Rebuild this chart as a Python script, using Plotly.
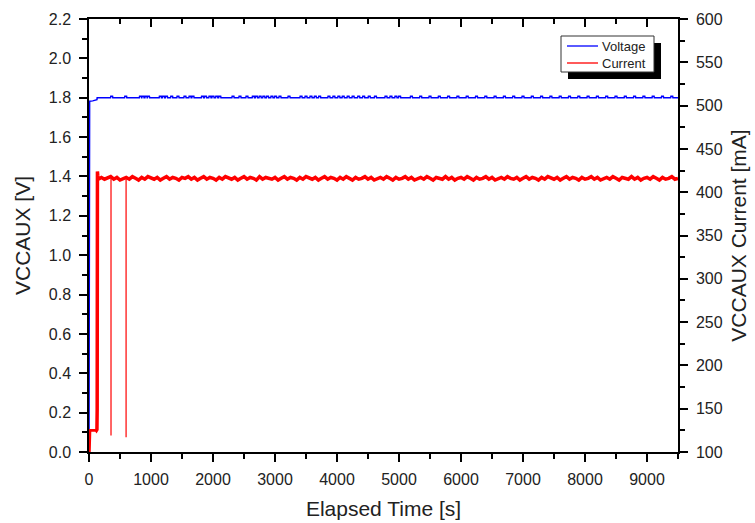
import plotly.graph_objects as go

# ---------------- data ----------------
volt_t = [0, 4, 10, 60, 100, 128, 132, 9500]
volt_v = [0.0, 1.780, 1.782, 1.784, 1.786, 1.790, 1.800, 1.800]
blip_level = 1.807
blip_t = [366, 592, 830, 870, 920, 960, 1150, 1200, 1250, 1334, 1435, 1548, 1629, 1677,
          1830, 1880, 1950, 2000, 2060, 2110, 2323, 2435, 2548, 2650, 2700, 2760, 2820,
          2880, 2950, 3010, 3080, 3226, 3420, 3500, 3580, 3650, 3720, 3870, 3950, 4030,
          4100, 4180, 4260, 4350, 4430, 4520, 4620, 4790, 4870, 4950, 5010, 5200, 5350,
          5500, 5650, 5800, 5950, 6100, 6250, 6400, 6550, 6700, 6850, 7000, 7150, 7300,
          7450, 7600, 7750, 7900, 8050, 8200, 8350, 8500, 8650, 8800, 8950, 9100, 9250, 9400]

cur_t = [0, 2, 10, 20, 30, 40, 50, 60, 70, 80, 90, 100, 110, 120, 128, 132, 136, 142, 150,
         200, 250, 300, 350, 400, 450, 500, 550, 600, 650, 700, 750, 800, 850, 900, 950, 1000,
         1050, 1100, 1150, 1200, 1250, 1300, 1350, 1400, 1450, 1500,
         1550, 1600, 1650, 1700, 1750, 1800, 1850, 1900, 1950, 2000,
         2050, 2100, 2150, 2200, 2250, 2300, 2350, 2400, 2450, 2500,
         2550, 2600, 2650, 2700, 2750, 2800, 2850, 2900, 2950, 3000,
         3050, 3100, 3150, 3200, 3250, 3300, 3350, 3400, 3450, 3500,
         3550, 3600, 3650, 3700, 3750, 3800, 3850, 3900, 3950, 4000,
         4050, 4100, 4150, 4200, 4250, 4300, 4350, 4400, 4450, 4500,
         4550, 4600, 4650, 4700, 4750, 4800, 4850, 4900, 4950, 5000,
         5050, 5100, 5150, 5200, 5250, 5300, 5350, 5400, 5450, 5500,
         5550, 5600, 5650, 5700, 5750, 5800, 5850, 5900, 5950, 6000,
         6050, 6100, 6150, 6200, 6250, 6300, 6350, 6400, 6450, 6500,
         6550, 6600, 6650, 6700, 6750, 6800, 6850, 6900, 6950, 7000,
         7050, 7100, 7150, 7200, 7250, 7300, 7350, 7400, 7450, 7500,
         7550, 7600, 7650, 7700, 7750, 7800, 7850, 7900, 7950, 8000,
         8050, 8100, 8150, 8200, 8250, 8300, 8350, 8400, 8450, 8500,
         8550, 8600, 8650, 8700, 8750, 8800, 8850, 8900, 8950, 9000,
         9050, 9100, 9150, 9200, 9250, 9300, 9350, 9400, 9450, 9500]
cur_v = [100, 123, 126, 124, 126, 124, 126, 124, 126, 124, 126, 124, 126, 125, 126, 150, 424, 419, 415,
         417, 415, 416, 418, 415, 417, 414, 416, 417, 415, 418, 416, 414, 417, 415, 418, 416,
         415, 417, 414, 416, 418, 415, 417, 416, 414, 417,
         416, 418, 415, 417, 414, 416, 418, 415, 417, 416,
         414, 417, 415, 418, 416, 415, 417, 414, 416, 418,
         415, 417, 416, 414, 418, 415, 417, 416, 415, 417,
         414, 416, 418, 415, 417, 416, 414, 417, 415, 418,
         416, 415, 417, 414, 416, 418, 415, 417, 416, 414,
         417, 415, 418, 416, 414, 417, 415, 416, 418, 415,
         417, 414, 416, 417, 415, 418, 416, 414, 417, 415,
         416, 418, 415, 417, 414, 416, 417, 415, 418, 416,
         414, 417, 416, 415, 418, 415, 417, 414, 416, 417,
         415, 418, 416, 414, 417, 415, 416, 418, 415, 417,
         414, 416, 417, 415, 418, 416, 415, 417, 414, 416,
         418, 415, 417, 416, 414, 417, 415, 418, 416, 415,
         417, 414, 416, 418, 415, 417, 416, 414, 417, 415,
         416, 418, 415, 417, 414, 416, 417, 415, 418, 416,
         414, 417, 416, 415, 418, 415, 417, 414, 416, 417,
         415, 418, 416, 414, 417, 415, 416, 418, 415, 416]

# brief dropouts of the current reading
drop_t = [355, 598]
drop_from = [416, 416]
drop_v = [119, 117]

x_range = [0, 9500]
v_range = [0, 2.2]
i_range = [100, 600]

# ---------------- build ----------------
pts = [(t, v) for t, v in zip(volt_t, volt_v)]
base = volt_v[-1]
for b in blip_t:
    pts += [(b - 18, base), (b - 14, blip_level), (b + 14, blip_level), (b + 18, base)]
pts.sort(key=lambda p: p[0])
vx = [p[0] for p in pts]
vy = [p[1] for p in pts]

dx, dy = [], []
for t, f, v in zip(drop_t, drop_from, drop_v):
    dx += [t, t, None]
    dy += [f, v, None]

FONT = "Liberation Sans, Arial, sans-serif"
TXT = "#222"

PL, PR, PT, PB = 89, 678, 19, 452
def px(x):
    return (x - PL) / (PR - PL)
def py(y):
    return (PB - y) / (PB - PT)

box = (561, 36, 654, 72)
sh = 7

fig = go.Figure()
fig.add_trace(go.Scatter(x=vx, y=vy, mode="lines", name="Voltage", showlegend=False,
                         line=dict(color="#0000ff", width=1.5)))
fig.add_trace(go.Scatter(x=cur_t, y=cur_v, mode="lines", name="Current", yaxis="y2",
                         showlegend=False, legendgroup="cur",
                         line=dict(color="#ff0000", width=3.5)))
fig.add_trace(go.Scatter(x=dx, y=dy, mode="lines", name="Current", yaxis="y2",
                         showlegend=False, legendgroup="cur",
                         line=dict(color="#ff0000", width=1.2)))
# helper (invisible) trace so the top mirror axis renders
fig.add_trace(go.Scatter(x=[volt_t[0]], y=[volt_v[0]], xaxis="x2", mode="markers",
                         marker=dict(opacity=0), showlegend=False, hoverinfo="skip"))

axis_common = dict(showline=True, linecolor="black", linewidth=1.5, showgrid=False,
                   zeroline=False, tickcolor="black", tickwidth=1.5, ticklen=8,
                   automargin=False,
                   tickfont=dict(family=FONT, size=16, color=TXT))

fig.update_layout(
    width=755, height=523,
    margin=dict(l=89, r=77, t=19, b=71),
    plot_bgcolor="white", paper_bgcolor="white",
    font=dict(family=FONT, color=TXT),
    showlegend=False,
    xaxis=dict(range=x_range, dtick=1000, ticks="outside", ticklabelstandoff=4,
               minor=dict(dtick=500, ticks="outside", ticklen=5, tickcolor="black", tickwidth=1.5),
               title=dict(text="Elapsed Time [s]", font=dict(family=FONT, size=21, color=TXT),
                          standoff=14),
               **axis_common),
    xaxis2=dict(range=x_range, dtick=1000, ticks="inside", overlaying="x", side="top",
                anchor="y", showticklabels=False,
                minor=dict(dtick=500, ticks="inside", ticklen=5, tickcolor="black", tickwidth=1.5),
                **axis_common),
    yaxis=dict(range=v_range, dtick=0.2, tickformat=".1f", ticks="outside",
               ticklabelstandoff=5,
               minor=dict(dtick=0.1, ticks="outside", ticklen=5, tickcolor="black", tickwidth=1.5),
               title=dict(text="VCCAUX [V]", font=dict(family=FONT, size=21, color=TXT),
                          standoff=12),
               **axis_common),
    yaxis2=dict(range=i_range, dtick=50, ticks="outside", overlaying="y", side="right",
                anchor="x", ticklabelstandoff=5,
                minor=dict(dtick=25, ticks="outside", ticklen=5, tickcolor="black", tickwidth=1.5),
                title=dict(text="VCCAUX Current [mA]", font=dict(family=FONT, size=21, color=TXT),
                           standoff=10),
                **axis_common),
)

# legend: drop shadow as two thick black strokes, then white framed box, samples and labels
half = sh / 2
shapes = [
    dict(type="line", xref="paper", yref="paper",
         x0=px(box[2] + half), x1=px(box[2] + half),
         y0=py(box[1] + sh), y1=py(box[3] + sh),
         line=dict(color="black", width=sh), layer="above"),
    dict(type="line", xref="paper", yref="paper",
         x0=px(box[0] + sh), x1=px(box[2] + sh),
         y0=py(box[3] + half), y1=py(box[3] + half),
         line=dict(color="black", width=sh), layer="above"),
    dict(type="rect", xref="paper", yref="paper", x0=px(box[0]), x1=px(box[2]),
         y0=py(box[3]), y1=py(box[1]), fillcolor="white",
         line=dict(color="#333333", width=1), layer="above"),
]
legend_items = [("Voltage", "#0000ff", 46), ("Current", "#ff0000", 63)]
annotations = []
for name, col, yy in legend_items:
    shapes.append(dict(type="line", xref="paper", yref="paper", x0=px(567), x1=px(598),
                       y0=py(yy), y1=py(yy), line=dict(color=col, width=1.3), layer="above"))
    annotations.append(dict(text=name, xref="paper", yref="paper", x=px(600), y=py(yy),
                            xanchor="left", yanchor="middle", showarrow=False,
                            font=dict(family=FONT, size=13, color=TXT)))
fig.update_layout(shapes=shapes, annotations=annotations)

fig.write_html("out.html")
